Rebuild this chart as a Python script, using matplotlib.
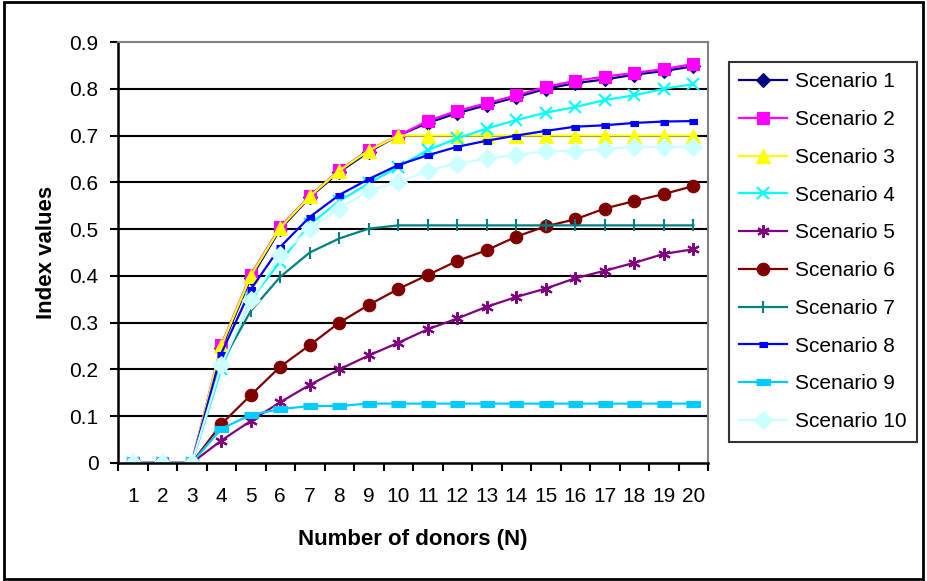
import matplotlib.pyplot as plt
from matplotlib.patches import Rectangle

plt.rcParams['font.family'] = ['Liberation Sans', 'DejaVu Sans']

donors = list(range(1, 21))

s1 = [0, 0, 0, 0.245, 0.395, 0.50, 0.568, 0.622, 0.665, 0.70, 0.727, 0.748,
      0.765, 0.782, 0.80, 0.812, 0.82, 0.83, 0.838, 0.848]
s2 = [0, 0, 0, 0.252, 0.402, 0.505, 0.571, 0.626, 0.669, 0.70, 0.731, 0.753,
      0.769, 0.786, 0.804, 0.817, 0.826, 0.834, 0.842, 0.853]
s3 = [0, 0, 0, 0.25, 0.40, 0.503, 0.570, 0.625, 0.668, 0.70, 0.70, 0.70,
      0.70, 0.70, 0.70, 0.70, 0.70, 0.70, 0.70, 0.70]
s4 = [0, 0, 0, 0.20, 0.35, 0.43, 0.51, 0.56, 0.598, 0.633, 0.669, 0.694,
      0.715, 0.733, 0.749, 0.761, 0.776, 0.786, 0.80, 0.81]
s5 = [0, 0, 0, 0.048, 0.09, 0.13, 0.167, 0.20, 0.23, 0.257, 0.286, 0.309,
      0.334, 0.355, 0.373, 0.395, 0.411, 0.428, 0.447, 0.457]
s6 = [0, 0, 0, 0.083, 0.145, 0.206, 0.252, 0.30, 0.338, 0.372, 0.402, 0.432,
      0.455, 0.484, 0.506, 0.521, 0.544, 0.56, 0.575, 0.592]
s7 = [0, 0, 0, 0.213, 0.325, 0.398, 0.45, 0.48, 0.501, 0.508, 0.508, 0.508,
      0.508, 0.508, 0.508, 0.508, 0.508, 0.508, 0.508, 0.508]
s8 = [0, 0, 0, 0.234, 0.371, 0.462, 0.526, 0.573, 0.607, 0.637, 0.658, 0.676,
      0.689, 0.70, 0.71, 0.719, 0.722, 0.727, 0.73, 0.731]
s9 = [0, 0, 0, 0.073, 0.103, 0.115, 0.122, 0.122, 0.127, 0.127, 0.127, 0.127,
      0.127, 0.127, 0.127, 0.127, 0.127, 0.127, 0.127, 0.127]
s10 = [0, 0, 0, 0.209, 0.348, 0.444, 0.50, 0.544, 0.582, 0.60, 0.625, 0.64,
       0.651, 0.658, 0.667, 0.667, 0.672, 0.676, 0.676, 0.676]

series = [s1, s2, s3, s4, s5, s6, s7, s8, s9, s10]
names = ['Scenario %d' % i for i in range(1, 11)]

wide = [(-1, -0.45), (1, -0.45), (1, 0.45), (-1, 0.45)]
small = [(-1, -0.6), (1, -0.6), (1, 0.6), (-1, 0.6)]

styles = [
    dict(color='#000080', marker='D', ms=7),
    dict(color='#FF00FF', marker='s', ms=9),
    dict(color='#FFFF00', marker='^', ms=10),
    dict(color='#00FFFF', marker='x', ms=8, mew=1.5),
    dict(color='#800080', marker=(6, 2, 0), ms=9, mew=1.5),
    dict(color='#800000', marker='o', ms=9),
    dict(color='#008080', marker='|', ms=9, mew=1.5),
    dict(color='#0000FF', marker=small, ms=6),
    dict(color='#00CCFF', marker=wide, ms=10),
    dict(color='#CCFFFF', marker='D', ms=9),
]

fig = plt.figure(figsize=(9.27, 5.81), dpi=100)
ax = fig.add_axes([0.1273, 0.2031, 0.6365, 0.7246])

for vals, name, st in zip(series, names, styles):
    ax.plot(donors, vals, label=name, color=st['color'], marker=st['marker'],
            markersize=st['ms'], markeredgewidth=st.get('mew', 0.8),
            markerfacecolor=st['color'], markeredgecolor=st['color'],
            linewidth=1.6)

ax.set_xlim(0.5, 20.5)
ax.set_ylim(0, 0.9)
ax.set_yticks([i / 10 for i in range(10)])
ax.set_yticklabels(['0'] + ['%.1f' % (i / 10) for i in range(1, 10)])
ax.set_xticks([i + 0.5 for i in range(0, 21)])
ax.set_xticklabels([])
ax.set_xticks(donors, minor=True)
ax.set_xticklabels([str(d) for d in donors], minor=True)
ax.tick_params(axis='x', which='major', direction='out', length=6, width=1.5)
ax.tick_params(axis='x', which='minor', length=0, pad=17, labelsize=15)
ax.tick_params(axis='y', direction='out', length=6, width=1.5, labelsize=15, pad=8)

for y in [i / 10 for i in range(1, 9)]:
    ax.axhline(y, color='black', linewidth=1.5, zorder=0.5)

ax.spines['left'].set_linewidth(1.8)
ax.spines['bottom'].set_linewidth(1.8)
ax.spines['top'].set_color('#808080')
ax.spines['right'].set_color('#808080')
ax.spines['top'].set_linewidth(1.5)
ax.spines['right'].set_linewidth(1.5)

ax.set_xlabel('Number of donors (N)', fontsize=16, fontweight='bold', labelpad=17)
ax.set_ylabel('Index values', fontsize=16, fontweight='bold', labelpad=9)

leg = ax.legend(loc='upper left', bbox_to_anchor=(1.0356, 0.9525), borderaxespad=0,
                fontsize=15, frameon=True, fancybox=False, edgecolor='black',
                handlelength=2.3, labelspacing=0.9, borderpad=0.5,
                handletextpad=0.35)
leg.get_frame().set_linewidth(1.5)

fig.patches.append(Rectangle((0.004, 0.004), 0.992, 0.992, transform=fig.transFigure,
                             fill=False, edgecolor='black', linewidth=2))

plt.savefig('out.png', dpi=100)
